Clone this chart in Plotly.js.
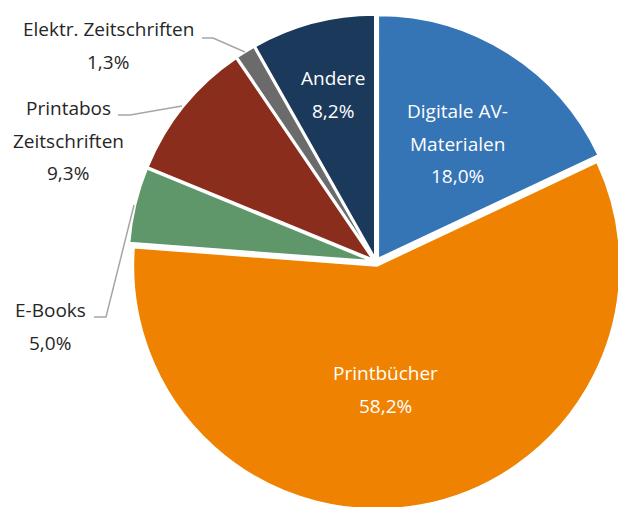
<!DOCTYPE html>
<html>
<head>
<meta charset="utf-8">
<script src="https://cdn.plot.ly/plotly-3.0.1.min.js"></script>
<style>
html, body { margin: 0; padding: 0; overflow: hidden; background: #ffffff; }
#chart { width: 640px; height: 510px; }
</style>
</head>
<body>
<div id="chart"></div>
<script>
// ---- data ----
const categories = ['Digitale AV-Materialen', 'Printbücher', 'E-Books', 'Printabos Zeitschriften', 'Elektr. Zeitschriften', 'Andere'];
const shares = [18.0, 58.2, 5.0, 9.3, 1.3, 8.2];
const labelLines = [['Digitale AV-', 'Materialen'], ['Printbücher'], ['E-Books'], ['Printabos', 'Zeitschriften'], ['Elektr. Zeitschriften'], ['Andere']];
const sliceColors = ['#3574b5', '#ef8200', '#5f976a', '#8b2d1c', '#6b6b6b', '#1b395b'];

// ---- layout (pixel positions of labels, leader lines) ----
const W = 640, H = 510;
const labelPos = [
  {x: 457, y: 111, inside: true},
  {x: 385, y: 373, inside: true},
  {x: 50, y: 310, inside: false},
  {x: 68, y: 108, inside: false},
  {x: 108, y: 29, inside: false},
  {x: 333, y: 78, inside: true}
];
const lineGap = 32.5;
const leaders = {
  2: [[94, 317], [106, 317], [134, 205]],
  3: [[118, 115], [130, 115], [182, 106]],
  4: [[202, 38], [213, 38], [245, 52]]
};
const px = v => v / W;
const py = v => 1 - v / H;

const fmt = v => v.toFixed(1).replace('.', ',') + '%';

const annotations = [];
categories.forEach((c, i) => {
  const p = labelPos[i];
  const lines = labelLines[i].concat([fmt(shares[i])]);
  lines.forEach((t, k) => {
    annotations.push({
      xref: 'paper', yref: 'paper',
      x: px(p.x), y: py(p.y + k * lineGap),
      xanchor: 'center', yanchor: 'middle',
      text: t, showarrow: false,
      font: {family: 'Open Sans, sans-serif', size: 19, color: p.inside ? '#ffffff' : '#262626'}
    });
  });
});

const shapes = Object.keys(leaders).map(k => {
  const pts = leaders[k];
  const d = pts.map((pt, j) => (j === 0 ? 'M ' : 'L ') + px(pt[0]).toFixed(5) + ' ' + py(pt[1]).toFixed(5)).join(' ');
  return {type: 'path', xref: 'paper', yref: 'paper', path: d, line: {color: '#a6a6a6', width: 1.5}};
});

// pie box: centre (376, 262) px, half-height 247.4 px
const cxPx = 376, cyPx = 262, halfY = 247.4, halfX = 252;
const trace = {
  type: 'pie',
  labels: categories,
  values: shares,
  sort: false,
  direction: 'clockwise',
  rotation: 0,
  textinfo: 'none',
  hoverinfo: 'label+percent',
  pull: shares.map(() => 0.016),
  marker: {colors: sliceColors, line: {color: '#ffffff', width: 2}},
  domain: {x: [(cxPx - halfX) / W, (cxPx + halfX) / W], y: [(H - cyPx - halfY) / H, (H - cyPx + halfY) / H]},
  showlegend: false
};

const layout = {
  width: W, height: H,
  margin: {l: 0, r: 0, t: 0, b: 0},
  paper_bgcolor: '#ffffff',
  plot_bgcolor: '#ffffff',
  showlegend: false,
  annotations: annotations,
  shapes: shapes
};

Plotly.newPlot('chart', [trace], layout, {displayModeBar: false, staticPlot: true});
</script>
</body>
</html>
